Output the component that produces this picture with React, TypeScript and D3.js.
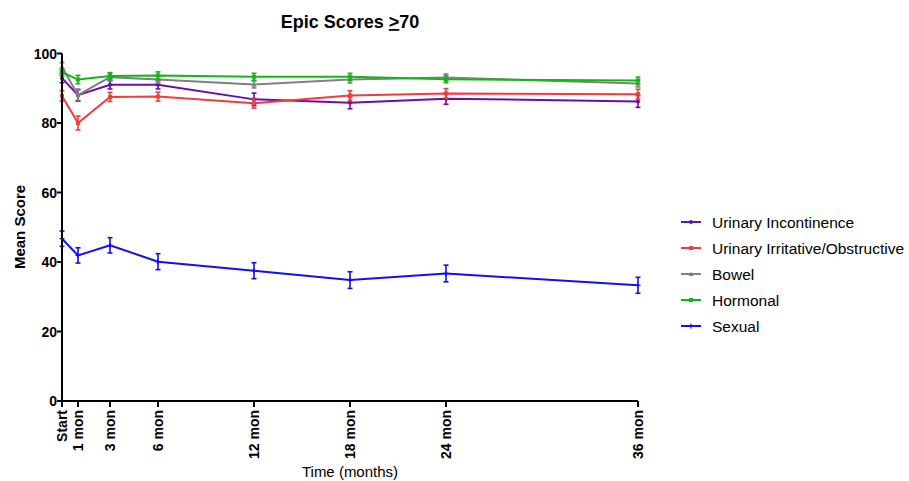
import React from "react";
import * as d3 from "d3";

const months = [0, 1, 3, 6, 12, 18, 24, 36];
const tickLabels = ["Start", "1 mon", "3 mon", "6 mon", "12 mon", "18 mon", "24 mon", "36 mon"];
const yTicks = [0, 20, 40, 60, 80, 100];

const seriesNames = ["Urinary Incontinence", "Urinary Irritative/Obstructive", "Bowel", "Hormonal", "Sexual"];
const seriesColors = ["#6a0dad", "#f23b3b", "#808080", "#12b812", "#1010f0"];

const incontinence = [92.9, 88.0, 91.0, 91.0, 86.8, 85.8, 87.0, 86.2];
const incontinenceErr = [1.3, 1.7, 1.2, 1.2, 1.8, 1.7, 1.6, 1.7];
const irritative = [87.8, 80.0, 87.5, 87.6, 85.7, 87.9, 88.5, 88.3];
const irritativeErr = [1.5, 2.0, 1.3, 1.3, 1.4, 1.4, 1.4, 1.4];
const bowel = [96.2, 88.0, 93.2, 92.5, 91.1, 92.5, 93.1, 91.4];
const bowelErr = [1.2, 1.5, 1.0, 1.0, 1.0, 1.0, 1.0, 1.0];
const hormonal = [94.6, 92.5, 93.5, 93.7, 93.3, 93.3, 92.6, 92.2];
const hormonalErr = [1.0, 1.2, 1.0, 1.0, 1.0, 1.0, 1.0, 1.0];
const sexual = [46.7, 41.9, 44.8, 40.1, 37.5, 34.8, 36.7, 33.3];
const sexualErr = [2.2, 2.2, 2.2, 2.3, 2.3, 2.4, 2.4, 2.3];

const seriesValues = [incontinence, irritative, bowel, hormonal, sexual];
const seriesErrs = [incontinenceErr, irritativeErr, bowelErr, hormonalErr, sexualErr];

export default function App() {
  const W = 909, H = 481;
  const x = d3.scaleLinear().domain([0, 36]).range([62, 638]);
  const y = d3.scaleLinear().domain([0, 100]).range([401, 53.5]);
  const line = d3.line<number>().x((_, i) => x(months[i])).y((d) => y(d));
  const font = "Liberation Sans, Arial, Helvetica, sans-serif";

  const marker = (k: number, cx: number, cy: number, color: string, key: string) => {
    if (k === 0) return <circle key={key} cx={cx} cy={cy} r={2} fill={color} />;
    if (k === 2) return <path key={key} d={`M${cx},${cy - 2.5}L${cx + 2.5},${cy + 2}L${cx - 2.5},${cy + 2}Z`} fill={color} />;
    if (k === 4) return <path key={key} d={`M${cx - 2.5},${cy}H${cx + 2.5}M${cx},${cy - 2.5}V${cy + 2.5}`} stroke={color} strokeWidth={1.2} />;
    return <rect key={key} x={cx - 2} y={cy - 2} width={4} height={4} fill={color} />;
  };

  return (
    <svg width={W} height={H} style={{ position: "absolute", left: 0, top: 0 }} fontFamily={font}>
      <rect width={W} height={H} fill="#fff" />
      <text x={350} y={28} textAnchor="middle" fontSize={18} fontWeight="bold">
        Epic Scores <tspan textDecoration="underline">&gt;</tspan>70
      </text>

      {seriesValues.map((vals, k) => {
        const c = seriesColors[k];
        return (
          <g key={k}>
            <path d={line(vals) || ""} fill="none" stroke={c} strokeWidth={2} />
            {vals.map((v, i) => {
              const cx = x(months[i]);
              const e = seriesErrs[k][i];
              return (
                <g key={i} stroke={c} strokeWidth={1.6}>
                  <line x1={cx} x2={cx} y1={y(v - e)} y2={y(v + e)} />
                  <line x1={cx - 2.5} x2={cx + 2.5} y1={y(v - e)} y2={y(v - e)} />
                  <line x1={cx - 2.5} x2={cx + 2.5} y1={y(v + e)} y2={y(v + e)} />
                </g>
              );
            })}
            {vals.map((v, i) => marker(k, x(months[i]), y(v), c, "m" + i))}
          </g>
        );
      })}

      {/* axes */}
      <line x1={62} x2={62} y1={y(100)} y2={y(0) + 1} stroke="#000" strokeWidth={2} />
      <line x1={61} x2={638} y1={y(0)} y2={y(0)} stroke="#000" strokeWidth={2} />
      {yTicks.map((t) => (
        <g key={t}>
          <line x1={57} x2={62} y1={y(t)} y2={y(t)} stroke="#000" strokeWidth={2} />
          <text x={57} y={y(t)} dy="0.36em" textAnchor="end" fontSize={14} fontWeight="bold">{t}</text>
        </g>
      ))}
      {months.map((m, i) => (
        <g key={m}>
          <line x1={x(m)} x2={x(m)} y1={y(0)} y2={y(0) + 6} stroke="#000" strokeWidth={2} />
          <text transform={`translate(${x(m)},${y(0) + 9}) rotate(-90)`} dy="0.36em" textAnchor="end" fontSize={14} fontWeight="bold">
            {tickLabels[i]}
          </text>
        </g>
      ))}

      <text transform={`translate(25,227) rotate(-90)`} textAnchor="middle" fontSize={15} fontWeight="bold">Mean Score</text>
      <text x={350} y={477} textAnchor="middle" fontSize={15}>Time (months)</text>

      {seriesNames.map((n, k) => {
        const ly = 222 + k * 26;
        return (
          <g key={n}>
            <line x1={681} x2={701} y1={ly} y2={ly} stroke={seriesColors[k]} strokeWidth={2} />
            {marker(k, 691, ly, seriesColors[k], "lm")}
            <text x={712} y={ly} dy="0.36em" fontSize={15.5}>{n}</text>
          </g>
        );
      })}
    </svg>
  );
}
